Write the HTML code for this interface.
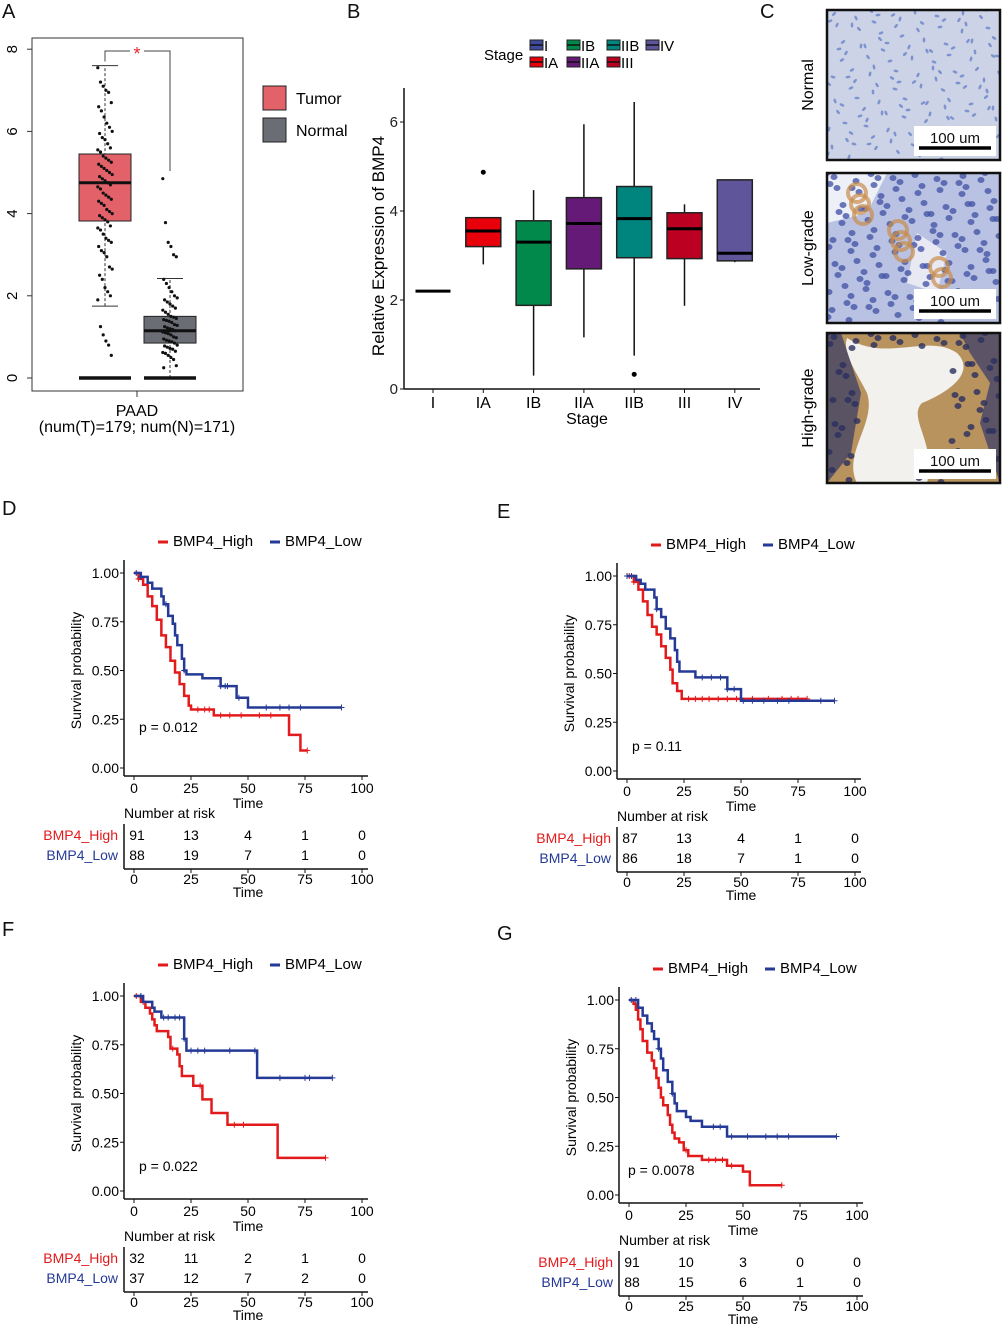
<!DOCTYPE html>
<html><head><meta charset="utf-8">
<style>
html,body{margin:0;padding:0;background:#fff;}
svg{display:block;font-family:"Liberation Sans",Arial,sans-serif;}
</style></head>
<body>
<svg id="fig" width="1003" height="1326" viewBox="0 0 1003 1326" xmlns="http://www.w3.org/2000/svg">
<rect width="1003" height="1326" fill="#fff"/>
<g font-size="20" fill="#111">
<text x="2" y="18">A</text>
<text x="347" y="18">B</text>
<text x="760" y="18">C</text>
<text x="2" y="515">D</text>
<text x="497" y="518">E</text>
<text x="2" y="936">F</text>
<text x="497" y="940">G</text>
</g>
<g id="pA"></g>
<g id="pB"></g>
<g id="pC"></g>
<g id="pD"></g>
<g id="pE"></g>
<g id="pF"></g>
<g id="pG"></g>
</svg>
<script>
// ---------- Panel A data ----------
const aGroups = ["Tumor","Normal"];
const aQ1 = [3.82, 0.85];
const aQ3 = [5.45, 1.5];
const aMed = [4.75, 1.15];
const aLo = [1.75, 0.0];
const aHi = [7.6, 2.42];
const aTumorDots = [7.55,7.2,7.1,7.0,6.95,6.7,6.6,6.5,6.35,6.2,6.1,6.0,5.95,5.85,5.8,5.7,5.6,5.55,5.5,5.4,5.35,5.3,5.25,5.2,5.15,5.1,5.05,5.0,4.95,4.9,4.85,4.8,4.75,4.7,4.65,4.6,4.5,4.45,4.4,4.35,4.3,4.25,4.2,4.1,4.05,4.0,3.95,3.9,3.85,3.8,3.7,3.65,3.6,3.5,3.4,3.35,3.3,3.2,3.1,3.05,2.95,2.7,2.65,2.5,2.4,2.2,2.1,2.0,1.9,1.25,1.05,0.9,0.8,0.55];
const aNormalDots = [4.85,3.78,3.3,3.2,3.0,2.95,2.4,2.3,2.2,2.1,2.0,1.95,1.9,1.85,1.8,1.75,1.7,1.65,1.6,1.55,1.5,1.48,1.45,1.42,1.4,1.38,1.35,1.3,1.28,1.25,1.22,1.2,1.18,1.15,1.12,1.1,1.08,1.05,1.0,0.98,0.95,0.92,0.9,0.88,0.85,0.8,0.78,0.75,0.72,0.7,0.65,0.62,0.6,0.55,0.5,0.45,0.3,0.25];
const aYTicks = [0,2,4,6,8];

// ---------- Panel B data ----------
const bStages = ["I","IA","IB","IIA","IIB","III","IV"];
const bColors = ["#3f4a9a","#e8000b","#00894a","#651a77","#00847e","#bb0021","#5f559b"];
const bQ1 = [2.2,3.2,1.88,2.7,2.95,2.93,2.88];
const bQ3 = [2.2,3.85,3.78,4.3,4.55,3.96,4.7];
const bMed = [2.2,3.55,3.3,3.72,3.83,3.6,3.05];
const bLo = [2.2,2.8,0.3,1.16,0.75,1.87,2.85];
const bHi = [2.2,3.85,4.47,5.95,6.45,4.15,4.7];
const bOutStage = [1,4];
const bOutVal = [4.87,0.33];
const bYTicks = [0,2,4,6];

// ---------- KM data ----------
const kmXTicks = [0,25,50,75,100];
const kmYTicks = [0,0.25,0.5,0.75,1];
const dHighT = [0,2,4,6,8,10,12,14,16,18,20,22,24,25,35,68,73,76];
const dHighS = [1,0.97,0.94,0.88,0.83,0.76,0.68,0.62,0.55,0.49,0.43,0.37,0.32,0.30,0.27,0.17,0.09,0.09];
const dLowT = [0,3,6,8,12,13,15,17,18,19,21,22,23,30,38,45,50,91];
const dLowS = [1,0.98,0.95,0.92,0.88,0.84,0.78,0.74,0.68,0.63,0.56,0.50,0.48,0.46,0.42,0.36,0.31,0.31];
const dHighCens = [2,28,31,33,38,42,47,55,60,76];
const dLowCens = [1,3,14,22,38,40,41,46,58,64,68,73,91];
const dRiskHigh = [91,13,4,1,0];
const dRiskLow = [88,19,7,1,0];

const eHighT = [0,3,5,7,9,11,13,15,17,19,20,22,24,79];
const eHighS = [1,0.97,0.93,0.87,0.80,0.74,0.70,0.64,0.58,0.52,0.45,0.41,0.37,0.37];
const eLowT = [0,4,6,8,12,13,15,17,19,21,22,23,30,44,50,91];
const eLowS = [1,0.98,0.96,0.93,0.89,0.83,0.79,0.73,0.68,0.62,0.56,0.51,0.48,0.42,0.36,0.36];
const eHighCens = [1,3,27,30,33,36,40,44,48,55,62,68,72,75,79];
const eLowCens = [0,2,13,33,37,41,44,47,51,55,60,66,71,85,91];
const eRiskHigh = [87,13,4,1,0];
const eRiskLow = [86,18,7,1,0];

const fHighT = [0,3,5,7,8,9,10,15,16,19,20,21,26,30,34,41,63,84];
const fHighS = [1,0.97,0.94,0.91,0.88,0.85,0.82,0.79,0.73,0.70,0.64,0.59,0.54,0.47,0.40,0.34,0.17,0.17];
const fLowT = [0,4,8,9,12,22,23,54,87];
const fLowS = [1,0.97,0.94,0.92,0.89,0.78,0.72,0.58,0.58];
const fHighCens = [1,4,17,29,44,48,84];
const fLowCens = [3,13,15,18,20,22,25,28,31,42,53,64,75,77,87];
const fRiskHigh = [32,11,2,1,0];
const fRiskLow = [37,12,7,2,0];

const gHighT = [0,2,3,4,5,6,8,10,11,12,13,14,15,17,18,19,20,22,24,26,32,43,50,53,67];
const gHighS = [1,0.98,0.95,0.90,0.85,0.79,0.73,0.69,0.65,0.60,0.55,0.50,0.46,0.41,0.36,0.32,0.29,0.27,0.23,0.20,0.18,0.15,0.12,0.05,0.05];
const gLowT = [0,4,6,8,10,11,13,14,15,17,19,20,21,25,27,32,43,91];
const gLowS = [1,0.96,0.92,0.88,0.84,0.80,0.75,0.70,0.64,0.58,0.52,0.47,0.43,0.40,0.38,0.35,0.30,0.30];
const gHighCens = [25,35,38,41,45,67];
const gLowCens = [1,3,13,19,37,40,45,52,60,65,70,91];
const gRiskHigh = [91,10,3,0,0];
const gRiskLow = [88,15,6,1,0];

const NS = "http://www.w3.org/2000/svg";
function mk(parent, tag, attrs, text){
  const e = document.createElementNS(NS, tag);
  for (const k in attrs) e.setAttribute(k, attrs[k]);
  if (text !== undefined) e.textContent = text;
  parent.appendChild(e);
  return e;
}

// ---------- Panel A ----------
(function(){
  const g = document.getElementById("pA");
  const yA = v => 378 - v*41.1;
  const cx = [105,170];
  const fills = ["#e3626a","#6a6d74"];
  let fr = mk(g,"rect",{x:32,y:38,width:211,height:353,fill:"none",stroke:"#333","stroke-width":1});
   
  aYTicks.forEach(t=>{
    let l = mk(g,"line",{x1:27,x2:32,y1:yA(t),y2:yA(t),stroke:"#333"});
     
    let tx = mk(g,"text",{x:13,y:yA(t),"font-size":15,"text-anchor":"middle",transform:`rotate(-90 13 ${yA(t)})`,"dominant-baseline":"middle"},String(t));
     
  });
  mk(g,"line",{x1:137,x2:137,y1:391,y2:397,stroke:"#333"});
  let t1 = mk(g,"text",{x:137,y:416,"font-size":16,"text-anchor":"middle"},"PAAD");
   
  let t2 = mk(g,"text",{x:137,y:432,"font-size":16,"text-anchor":"middle"},"(num(T)=179; num(N)=171)");
   
  aGroups.forEach((grp,i)=>{
    const x = cx[i];
    let w = mk(g,"line",{x1:x,x2:x,y1:yA(aLo[i]),y2:yA(aHi[i]),stroke:"#333","stroke-dasharray":"3,2"});
     
    mk(g,"line",{x1:x-13,x2:x+13,y1:yA(aHi[i]),y2:yA(aHi[i]),stroke:"#333"});
    mk(g,"line",{x1:x-13,x2:x+13,y1:yA(aLo[i]),y2:yA(aLo[i]),stroke:"#333"});
    let b = mk(g,"rect",{x:x-26,y:yA(aQ3[i]),width:52,height:yA(aQ1[i])-yA(aQ3[i]),fill:fills[i],stroke:"#222","stroke-width":1});
     
    let m = mk(g,"line",{x1:x-26,x2:x+26,y1:yA(aMed[i]),y2:yA(aMed[i]),stroke:"#111","stroke-width":3});
     
    let z = mk(g,"line",{x1:x-26,x2:x+26,y1:yA(0),y2:yA(0),stroke:"#111","stroke-width":3.5});
     
  });
  [aTumorDots,aNormalDots].forEach((arr,gi)=>{
    arr.forEach((v,i)=>{
      const jx = ((i*37)%17 - 8)*0.9;
      let d = mk(g,"circle",{cx:cx[gi]+jx,cy:yA(v),r:1.6,fill:"#111"});
       
    });
  });
  let br = mk(g,"path",{d:`M105 ${yA(7.7)} V51 H130 M144 51 H170 V171`,fill:"none",stroke:"#444"});
   
  let st = mk(g,"text",{x:137,y:60,"font-size":18,fill:"#e8262b","text-anchor":"middle"},"*");
   
  [["Tumor",86,fills[0]],["Normal",118,fills[1]]].forEach(([n,y,c])=>{
    let r = mk(g,"rect",{x:263,y:y,width:23,height:24,fill:c,stroke:"#222"});
     
    let t = mk(g,"text",{x:296,y:y+18,"font-size":16},n);
     
  });
})();

// ---------- Panel B ----------
(function(){
  const g = document.getElementById("pB");
  const yB = v => 389 - v*44.5;
  const xB = i => 433 + i*50.3;
  mk(g,"line",{x1:404,x2:404,y1:88,y2:389,stroke:"#111","stroke-width":1.5});
  mk(g,"line",{x1:404,x2:760,y1:389,y2:389,stroke:"#111","stroke-width":1.5});
  bYTicks.forEach(t=>{
    mk(g,"line",{x1:400,x2:404,y1:yB(t),y2:yB(t),stroke:"#111"});
    let tx = mk(g,"text",{x:398,y:yB(t)+5,"font-size":15,"text-anchor":"end",fill:"#222"},String(t));
     
  });
  let yt = mk(g,"text",{x:384,y:246,"font-size":17,"text-anchor":"middle",transform:"rotate(-90 384 246)"},"Relative Expression of BMP4");
   
  let xt = mk(g,"text",{x:587,y:424,"font-size":16,"text-anchor":"middle"},"Stage");
   
  bStages.forEach((s,i)=>{
    const x = xB(i);
    mk(g,"line",{x1:x,x2:x,y1:389,y2:393,stroke:"#111"});
    let tl = mk(g,"text",{x:x,y:408,"font-size":16,"text-anchor":"middle"},s);
     
    let w = mk(g,"line",{x1:x,x2:x,y1:yB(bLo[i]),y2:yB(bHi[i]),stroke:"#111","stroke-width":1.5});
     
    if (bQ3[i] > bQ1[i]) {
      let b = mk(g,"rect",{x:x-17.5,y:yB(bQ3[i]),width:35,height:yB(bQ1[i])-yB(bQ3[i]),fill:bColors[i],stroke:"#222","stroke-width":1.5});
       
    }
    let m = mk(g,"line",{x1:x-17.5,x2:x+17.5,y1:yB(bMed[i]),y2:yB(bMed[i]),stroke:"#000","stroke-width":3});
     
  });
  bOutStage.forEach((si,k)=>{
    let o = mk(g,"circle",{cx:xB(si),cy:yB(bOutVal[k]),r:2.5,fill:"#000"});
     
  });
  let lt = mk(g,"text",{x:484,y:60,"font-size":15},"Stage");
   
  const lx = [530,530,567,567,607,607,646];
  const ly = [46,63,46,63,46,63,46];
  bStages.forEach((s,i)=>{
    let r = mk(g,"rect",{x:lx[i],y:ly[i]-6,width:13,height:10,fill:bColors[i],stroke:"#222"});
     
    mk(g,"line",{x1:lx[i],x2:lx[i]+13,y1:ly[i]-1,y2:ly[i]-1,stroke:"#111","stroke-width":1.5});
    let t = mk(g,"text",{x:lx[i]+14,y:ly[i]+5,"font-size":15},s);
     
  });
})();

// ---------- Panel C (IHC illustration) ----------
(function(){
  const g = document.getElementById("pC");
  const panels = [
    {name:"Normal", y:10, bg:"#ccd3e6", cell:"#6a82c8", n:150, brown:0},
    {name:"Low-grade", y:173, bg:"#b9c2e2", cell:"#4656a8", n:150, brown:8},
    {name:"High-grade", y:333, bg:"#a99a93", cell:"#2a2f5e", n:110, brown:0}
  ];
  panels.forEach((p,pi)=>{
    const x0 = 827, w = 173, h = 150;
    const cg = mk(g,"g",{});
     
    const clip = mk(cg,"clipPath",{id:"clip"+pi});
    mk(clip,"rect",{x:x0,y:p.y,width:w,height:h});
    const inner = mk(cg,"g",{"clip-path":`url(#clip${pi})`});
    mk(inner,"rect",{x:x0,y:p.y,width:w,height:h,fill:p.bg});
    if (pi===1){
      mk(inner,"path",{d:`M${x0} ${p.y} h60 l-20 40 l-40 10 z`,fill:"#eef0f8"});
      mk(inner,"path",{d:`M${x0+90} ${p.y+60} l30 20 l-10 40 l-30 -10 z`,fill:"#e8e9f2"});
    }
    if (pi===2){
      mk(inner,"rect",{x:x0,y:p.y,width:w,height:h,fill:"#b8935e"});
      mk(inner,"path",{d:`M${x0+20} ${p.y+5} C${x0+60} ${p.y+30},${x0+100} ${p.y} ${x0+130} ${p.y+20} C${x0+150} ${p.y+40},${x0+120} ${p.y+60} ${x0+95} ${p.y+70} C${x0+80} ${p.y+85},${x0+110} ${p.y+110} ${x0+100} ${p.y+150} L${x0+30} ${p.y+150} C${x0+15} ${p.y+120},${x0+50} ${p.y+90},${x0+40} ${p.y+60} C${x0+30} ${p.y+40},${x0+15} ${p.y+20} ${x0+20} ${p.y+5} Z`,fill:"#f3f1ee"});
      mk(inner,"path",{d:`M${x0} ${p.y} h14 l20 60 l-10 60 l-24 30 z`,fill:"#3a3d66",opacity:0.75});
      mk(inner,"path",{d:`M${x0+w} ${p.y} h-40 l10 20 l20 30 l-10 40 l20 60 h0 z`,fill:"#35396a",opacity:0.7});
    }
    for (let k=0;k<p.n;k++){
      const cx = x0 + ((k*53 + Math.floor(k/10)*11)%w);
      const cy = p.y + ((k*29 + Math.floor(k/6)*7)%h);
      if (pi===2){ const rx=cx-x0, ry=cy-p.y; if (rx>30 && rx<125 && ry>15 && ry<140) continue; }
      mk(inner,"ellipse",{cx:cx,cy:cy,rx:pi===0?2.5:3.5,ry:pi===0?1.3:3,fill:p.cell,opacity:0.8,transform:pi===0?`rotate(${(k*47)%180} ${cx} ${cy})`:""});
    }
    for (let k=0;k<p.brown;k++){
      mk(inner,"circle",{cx:x0+30+((k*41)%120),cy:p.y+20+((k*37)%100),r:9,fill:"none",stroke:"#c98b4a","stroke-width":4,opacity:0.7});
    }
    mk(cg,"rect",{x:x0,y:p.y,width:w,height:h,fill:"none",stroke:"#111","stroke-width":2.5});
    const sb = mk(cg,"g",{});
     
    mk(sb,"rect",{x:x0+87,y:p.y+h-34,width:82,height:30,fill:"#fff"});
    mk(sb,"text",{x:x0+128,y:p.y+h-17,"font-size":15,"text-anchor":"middle",fill:"#111"},"100 um");
    mk(sb,"line",{x1:x0+92,x2:x0+164,y1:p.y+h-12,y2:p.y+h-12,stroke:"#000","stroke-width":3.5});
    const lbl = mk(g,"text",{x:813,y:p.y+h/2,"font-size":16,"text-anchor":"middle",transform:`rotate(-90 813 ${p.y+h/2})`},p.name);
     
  });
})();

// ---------- KM panels ----------
function km(id, dx, dy, xr, hT, hS, lT, lS, hC, lC, rH, rL, pTxt, px, py){
  const g = document.getElementById(id);
  const x0 = 134+dx, xs = (xr-x0)/100;
  const X = t => x0 + t*xs;
  const Y = s => 768+dy - s*195;
  const axL = 124+dx, axB = 776+dy, axR = 368+dx;
  let lg = mk(g,"g",{});  
  mk(lg,"line",{x1:158+dx,x2:168+dx,y1:542+dy,y2:542+dy,stroke:"#e31a1c","stroke-width":3});
  mk(lg,"text",{x:173+dx,y:546+dy,"font-size":15},"BMP4_High");
  mk(lg,"line",{x1:270+dx,x2:280+dx,y1:542+dy,y2:542+dy,stroke:"#253a96","stroke-width":3});
  mk(lg,"text",{x:285+dx,y:546+dy,"font-size":15},"BMP4_Low");
  mk(g,"line",{x1:axL,x2:axL,y1:560+dy,y2:axB,stroke:"#111","stroke-width":1.5});
  mk(g,"line",{x1:axL,x2:axR,y1:axB,y2:axB,stroke:"#111","stroke-width":1.5});
  kmYTicks.forEach(t=>{
    mk(g,"line",{x1:axL-4,x2:axL,y1:Y(t),y2:Y(t),stroke:"#111"});
    let tx = mk(g,"text",{x:axL-5,y:Y(t)+5,"font-size":14,"text-anchor":"end"},t.toFixed(2));
     
  });
  kmXTicks.forEach(t=>{
    mk(g,"line",{x1:X(t),x2:X(t),y1:axB,y2:axB+4,stroke:"#111"});
    let tx = mk(g,"text",{x:X(t),y:axB+17,"font-size":14,"text-anchor":"middle"},String(t));
     
  });
  let xt = mk(g,"text",{x:X(50),y:808+dy,"font-size":14,"text-anchor":"middle"},"Time");
   
  let yt = mk(g,"text",{x:81+dx,y:Y(0.5),"font-size":14,"text-anchor":"middle",transform:`rotate(-90 ${81+dx} ${Y(0.5)})`},"Survival probability");
   
  let pt = mk(g,"text",{x:px,y:py,"font-size":14},pTxt);
   
  function curve(T,S,C,color,name){
    let d = `M${X(T[0])} ${Y(S[0])}`;
    for (let i=1;i<T.length;i++){ d += ` H${X(T[i])} V${Y(S[i])}`; }
    let p = mk(g,"path",{d:d,fill:"none",stroke:color,"stroke-width":2.5});
     
    C.forEach(c=>{
      let s = S[0];
      for (let i=0;i<T.length;i++){ if (T[i]<=c) s=S[i]; }
      let m = mk(g,"path",{d:`M${X(c)-3} ${Y(s)} h6 M${X(c)} ${Y(s)-3} v6`,stroke:color,"stroke-width":1});
       
    });
  }
  curve(hT,hS,hC,"#e31a1c","high");
  curve(lT,lS,lC,"#253a96","low");
  let nr = mk(g,"text",{x:124+dx,y:818+dy,"font-size":14},"Number at risk");
   
  const rY = [840+dy, 860+dy];
  let l1 = mk(g,"text",{x:118+dx,y:rY[0],"font-size":14,"text-anchor":"end",fill:"#e31a1c"},"BMP4_High");
   
  let l2 = mk(g,"text",{x:118+dx,y:rY[1],"font-size":14,"text-anchor":"end",fill:"#253a96"},"BMP4_Low");
   
  mk(g,"line",{x1:axL,x2:axL,y1:824+dy,y2:869+dy,stroke:"#111","stroke-width":1.5});
  mk(g,"line",{x1:axL,x2:axR,y1:869+dy,y2:869+dy,stroke:"#111","stroke-width":1.5});
  kmXTicks.forEach((t,i)=>{
    let a = mk(g,"text",{x:X(t)+(i===0?3:0),y:rY[0],"font-size":14,"text-anchor":"middle"},String(rH[i]));
     
    let b = mk(g,"text",{x:X(t)+(i===0?3:0),y:rY[1],"font-size":14,"text-anchor":"middle"},String(rL[i]));
     
    mk(g,"line",{x1:X(t),x2:X(t),y1:869+dy,y2:873+dy,stroke:"#111"});
    let c = mk(g,"text",{x:X(t),y:884+dy,"font-size":14,"text-anchor":"middle"},String(t));
     
  });
  let tt = mk(g,"text",{x:X(50),y:897+dy,"font-size":14,"text-anchor":"middle"},"Time");
   
}
km("pD",0,0,362,dHighT,dHighS,dLowT,dLowS,dHighCens,dLowCens,dRiskHigh,dRiskLow,"p = 0.012",139,732);
km("pE",493,3,855,eHighT,eHighS,eLowT,eLowS,eHighCens,eLowCens,eRiskHigh,eRiskLow,"p = 0.11",632,751);
km("pF",0,423,362,fHighT,fHighS,fLowT,fLowS,fHighCens,fLowCens,fRiskHigh,fRiskLow,"p = 0.022",139,1171);
km("pG",495,427,857,gHighT,gHighS,gLowT,gLowS,gHighCens,gLowCens,gRiskHigh,gRiskLow,"p = 0.0078",628,1175);
</script>
</body></html>
